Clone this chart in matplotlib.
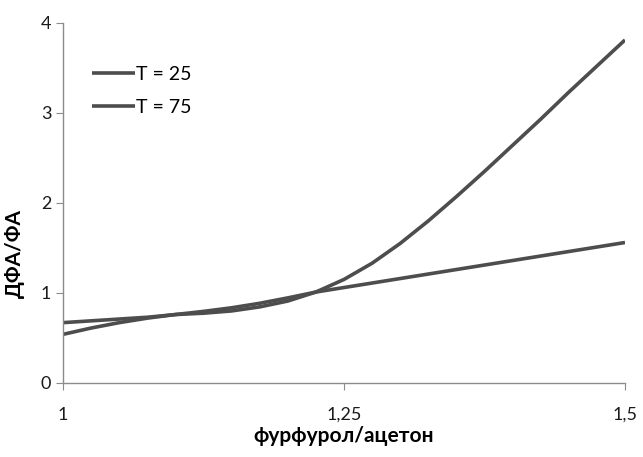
import numpy as np
import matplotlib
matplotlib.use("Agg")
import matplotlib.pyplot as plt
from matplotlib.ticker import FuncFormatter

plt.rcParams['font.family'] = ['Lato', 'DejaVu Sans']

# values
ratio = [1.000, 1.025, 1.050, 1.075, 1.100, 1.125, 1.150, 1.175, 1.200, 1.225, 1.250,
         1.275, 1.300, 1.325, 1.350, 1.375, 1.400, 1.425, 1.450, 1.475, 1.500]
t25 = [0.54, 0.61, 0.67, 0.72, 0.76, 0.775, 0.80, 0.845, 0.91, 1.01, 1.15,
       1.33, 1.55, 1.80, 2.07, 2.35, 2.64, 2.93, 3.23, 3.52, 3.81]
t75 = [0.67, 0.69, 0.71, 0.73, 0.76, 0.795, 0.835, 0.885, 0.945, 1.01, 1.06,
       1.11, 1.16, 1.21, 1.26, 1.31, 1.36, 1.41, 1.46, 1.51, 1.56]
labels = ["T = 25", "T = 75"]
xticks = [1, 1.25, 1.5]
yticks = [0, 1, 2, 3, 4]

fig = plt.figure(figsize=(6.43, 4.57), dpi=100)
ax = fig.add_axes([0.098, 0.162, 0.874, 0.788])

ax.plot(ratio, t25, color="#4d4d4d", lw=2.6, label=labels[0], solid_capstyle="butt")
ax.plot(ratio, t75, color="#4d4d4d", lw=2.6, label=labels[1], solid_capstyle="butt")

ax.set_xlim(1, 1.5)
ax.set_ylim(0, 4)
ax.set_xticks(xticks)
ax.set_yticks(yticks)
ax.xaxis.set_major_formatter(FuncFormatter(lambda v, p: ("%g" % v).replace(".", ",")))

for s in ["top", "right"]:
    ax.spines[s].set_visible(False)
for s in ["left", "bottom"]:
    ax.spines[s].set_color("#8c8c8c")
    ax.spines[s].set_linewidth(1)
ax.tick_params(direction="out", length=5, color="#8c8c8c", labelsize=13, labelcolor="#1a1a1a")
ax.tick_params(axis="x", pad=12)

ax.set_xlabel("фурфурол/ацетон", fontsize=15, fontweight="bold")
ax.xaxis.set_label_coords(0.5, -0.12)
ax.set_ylabel("ДФА/ФА", fontsize=15, fontweight="bold")
ax.yaxis.set_label_coords(-0.068, 0.36)

ax.legend(loc="upper left", bbox_to_anchor=(0.02, 0.93), frameon=False, fontsize=14,
          handlelength=2.2, handletextpad=0.1, labelspacing=0.85)

fig.savefig("out.png", dpi=100)
